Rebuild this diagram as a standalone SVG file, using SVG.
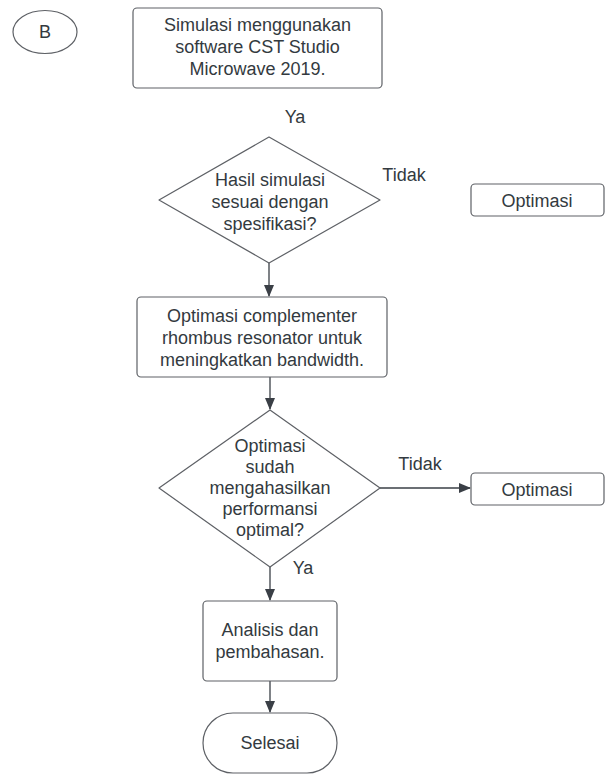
<svg xmlns="http://www.w3.org/2000/svg" width="606" height="776" viewBox="0 0 606 776">
<style>
.shape{fill:#ffffff;stroke:#5e6166;stroke-width:1.2}
.t{font-family:"Liberation Sans",Arial,sans-serif;font-size:18px;fill:#333a40;text-anchor:middle}
.c{stroke:#3a3f46;stroke-width:1.3;fill:none}
</style>
<defs>
<marker id="ah" markerWidth="12" markerHeight="10" refX="11" refY="5" orient="auto" markerUnits="userSpaceOnUse">
<path d="M0,0 L12,5 L0,10 Z" fill="#3a3f46"/>
</marker>
</defs>
<rect width="606" height="776" fill="#ffffff"/>
<g id="connectors">
<line class="c" x1="269" y1="263" x2="269" y2="296" marker-end="url(#ah)"/>
<line class="c" x1="270" y1="377" x2="270" y2="409" marker-end="url(#ah)"/>
<line class="c" x1="380" y1="488" x2="470" y2="488" marker-end="url(#ah)"/>
<line class="c" x1="270" y1="567" x2="270" y2="600" marker-end="url(#ah)"/>
<line class="c" x1="270" y1="681" x2="270" y2="712" marker-end="url(#ah)"/>
</g>
<g id="nodeB">
<ellipse class="shape" cx="45" cy="32" rx="32" ry="21.5"/>
<text class="t" x="45" y="38">B</text>
</g>
<g id="simulasi">
<rect class="shape" x="133" y="8" width="249" height="80" rx="4"/>
<text class="t" x="257.5" y="31">Simulasi menggunakan</text>
<text class="t" x="257.5" y="53">software CST Studio</text>
<text class="t" x="257.5" y="75">Microwave 2019.</text>
</g>
<g id="label-ya1"><text class="t" x="295" y="123">Ya</text></g>
<g id="decision1">
<path class="shape" d="M269,137 L380,200 L269,263 L159,200 Z" stroke-linejoin="round"/>
<text class="t" x="270" y="186">Hasil simulasi</text>
<text class="t" x="270" y="208">sesuai dengan</text>
<text class="t" x="270" y="230">spesifikasi?</text>
</g>
<g id="label-tidak1"><text class="t" x="404" y="181">Tidak</text></g>
<g id="optimasi1">
<rect class="shape" x="471" y="184" width="133" height="32" rx="4"/>
<text class="t" x="537" y="207">Optimasi</text>
</g>
<g id="complementer">
<rect class="shape" x="137" y="297" width="250" height="80" rx="4"/>
<text class="t" x="262" y="322">Optimasi complementer</text>
<text class="t" x="262" y="344">rhombus resonator untuk</text>
<text class="t" x="262" y="366">meningkatkan bandwidth.</text>
</g>
<g id="decision2">
<path class="shape" d="M270,410 L380,488 L270,567 L159,488 Z" stroke-linejoin="round"/>
<text class="t" x="270" y="452">Optimasi</text>
<text class="t" x="270" y="473">sudah</text>
<text class="t" x="270" y="494">mengahasilkan</text>
<text class="t" x="270" y="515">performansi</text>
<text class="t" x="270" y="536">optimal?</text>
</g>
<g id="label-tidak2"><text class="t" x="420" y="470">Tidak</text></g>
<g id="optimasi2">
<rect class="shape" x="471" y="473" width="133" height="32" rx="4"/>
<text class="t" x="537" y="496">Optimasi</text>
</g>
<g id="label-ya2"><text class="t" x="303" y="574">Ya</text></g>
<g id="analisis">
<rect class="shape" x="203" y="601" width="134" height="80" rx="4"/>
<text class="t" x="270" y="636">Analisis dan</text>
<text class="t" x="270" y="658">pembahasan.</text>
</g>
<g id="selesai">
<rect class="shape" x="203" y="713" width="134" height="60" rx="30"/>
<text class="t" x="270" y="749">Selesai</text>
</g>
</svg>
